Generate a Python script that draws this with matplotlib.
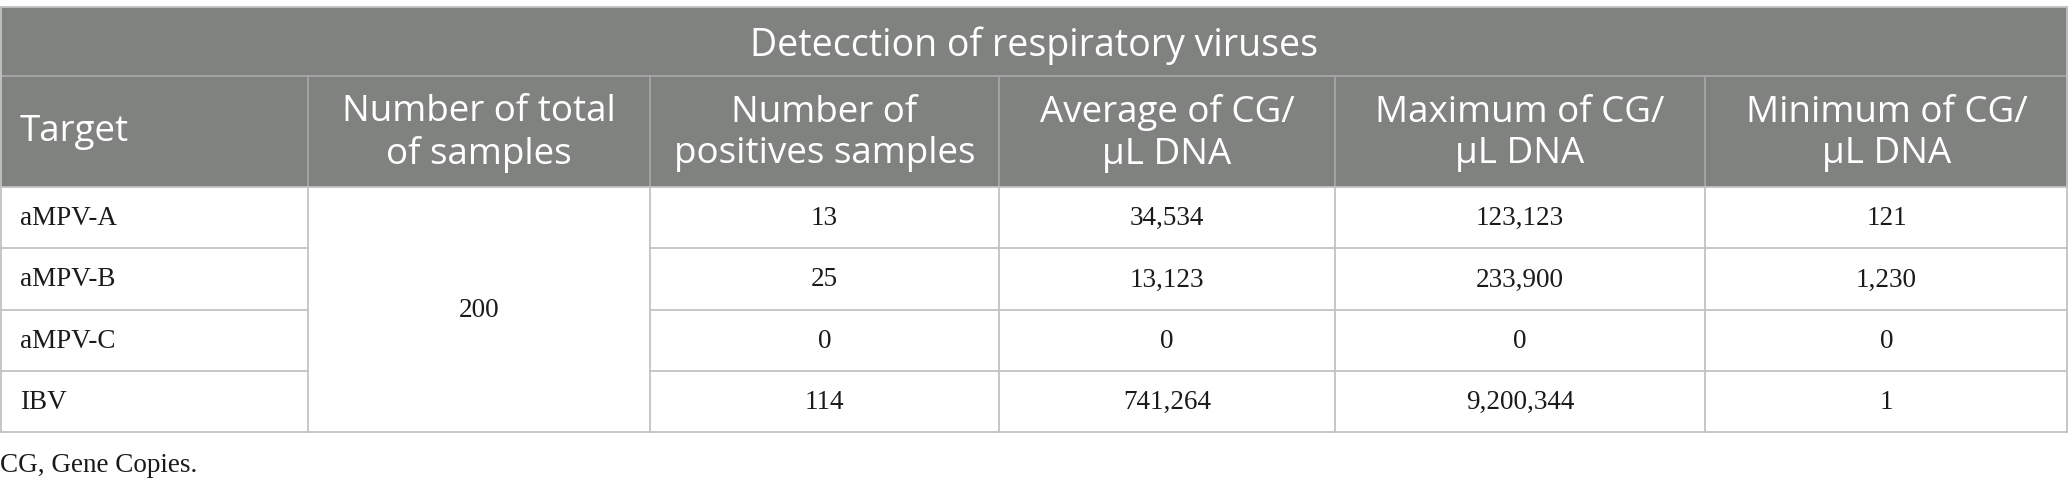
import matplotlib
matplotlib.use("Agg")
import matplotlib.pyplot as plt
from matplotlib.patches import Rectangle

title = "Detecction of respiratory viruses"
headers = ["Target", "Number of total\nof samples", "Number of\npositives samples",
           "Average of CG/\nμL DNA", "Maximum of CG/\nμL DNA", "Minimum of CG/\nμL DNA"]
targets = ["aMPV-A", "aMPV-B", "aMPV-C", "IBV"]
total_samples = "200"
positives = ["13", "25", "0", "114"]
average = ["34,534", "13,123", "0", "741,264"]
maximum = ["123,123", "233,900", "0", "9,200,344"]
minimum = ["121", "1,230", "0", "1"]
footnote = "CG, Gene Copies."

W, H = 2068, 489
fig = plt.figure(figsize=(W / 100, H / 100), dpi=100)
ax = fig.add_axes([0, 0, 1, 1])
ax.set_xlim(0, W)
ax.set_ylim(H, 0)
ax.axis("off")

col_x = [0, 308, 650, 999, 1335, 1705, 2068]
y_top, y_title, y_head = 8, 77, 188
row_h = 61.3
row_y = [y_head + i * row_h for i in range(len(targets) + 1)]

hdr_bg = "#808280"
line_c = "#c3c3c3"
hdr_line = "#a5a6a5"
sans = ["Open Sans", "DejaVu Sans"]
serif = ["Liberation Serif", "DejaVu Serif"]
hfs = 26.5

# header background
ax.add_patch(Rectangle((0, y_top), W, y_head - y_top, facecolor=hdr_bg, edgecolor="none"))

# title
ax.text(W / 2, (y_top + y_title) / 2 + 3, title, ha="center", va="center",
        color="white", fontsize=hfs + 0.5, family=sans)
# column headers
for i, h in enumerate(headers):
    if i == 0:
        ax.text(col_x[0] + 20, (y_title + y_head) / 2, h, ha="left", va="center",
                color="white", fontsize=hfs, family=sans, linespacing=1.2)
    else:
        ax.text((col_x[i] + col_x[i + 1]) / 2, (y_title + y_head) / 2 + 1, h,
                ha="center", va="center", color="white", fontsize=hfs,
                family=sans, linespacing=1.2)

# body
cols = [positives, average, maximum, minimum]
for r, t in enumerate(targets):
    yc = (row_y[r] + row_y[r + 1]) / 2
    ax.text(col_x[0] + 20, yc, t, ha="left", va="center", fontsize=19.5,
            family=serif, color="#1a1a1a")
    for c, vals in enumerate(cols):
        ax.text((col_x[c + 2] + col_x[c + 3]) / 2, yc, vals[r], ha="center",
                va="center", fontsize=19.5, family=serif, color="#1a1a1a")
ax.text((col_x[1] + col_x[2]) / 2, (row_y[0] + row_y[-1]) / 2, total_samples,
        ha="center", va="center", fontsize=19.5, family=serif, color="#1a1a1a")

# lines
lw = 1.3
ax.plot([0, W], [y_top, y_top], color=line_c, lw=lw)
ax.plot([0, W], [y_title, y_title], color=hdr_line, lw=lw)
ax.plot([0, W], [y_head, y_head], color=line_c, lw=lw)
for r in range(1, len(targets)):
    ax.plot([0, col_x[1]], [row_y[r], row_y[r]], color=line_c, lw=lw)
    ax.plot([col_x[2], W], [row_y[r], row_y[r]], color=line_c, lw=lw)
ax.plot([0, W], [row_y[-1], row_y[-1]], color=line_c, lw=lw)
for x in col_x[1:-1]:
    ax.plot([x, x], [y_title, y_head], color=hdr_line, lw=lw)
    ax.plot([x, x], [y_head, row_y[-1]], color=line_c, lw=lw)
ax.plot([0.7, 0.7], [y_top, row_y[-1]], color=line_c, lw=lw)
ax.plot([W - 0.7, W - 0.7], [y_top, row_y[-1]], color=line_c, lw=lw)

ax.text(0, 466, footnote, ha="left", va="center", fontsize=19.5, family=serif,
        color="#1a1a1a")

fig.savefig("out.png", dpi=100)
